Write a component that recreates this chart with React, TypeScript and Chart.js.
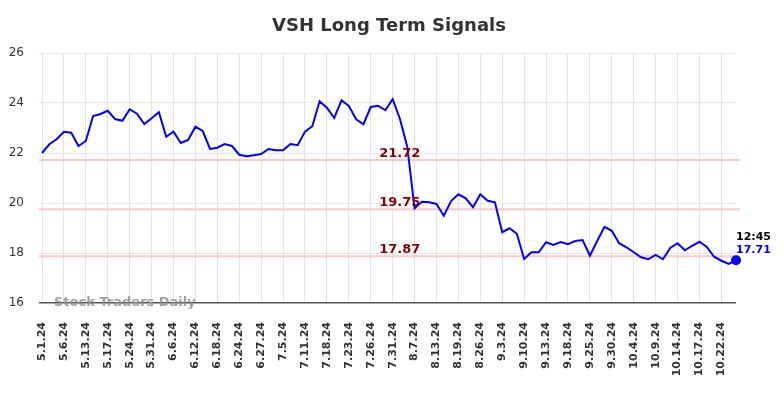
import React, { useEffect, useRef } from "react";
import { Chart, registerables } from "chart.js";

Chart.register(...registerables);

const TITLE = "VSH Long Term Signals";
const WATERMARK = "Stock Traders Daily";
const LAST_TIME = "12:45";

const dates: string[] = [
  "5.1.24", "5.2.24", "5.3.24", "5.6.24", "5.8.24", "5.10.24",
  "5.13.24", "5.14.24", "5.16.24", "5.17.24", "5.20.24", "5.22.24",
  "5.24.24", "5.28.24", "5.30.24", "5.31.24", "6.3.24", "6.5.24",
  "6.6.24", "6.7.24", "6.11.24", "6.12.24", "6.13.24", "6.17.24",
  "6.18.24", "6.20.24", "6.21.24", "6.24.24", "6.25.24", "6.26.24",
  "6.27.24", "7.1.24", "7.3.24", "7.5.24", "7.8.24", "7.10.24",
  "7.11.24", "7.15.24", "7.17.24", "7.18.24", "7.19.24", "7.22.24",
  "7.23.24", "7.24.24", "7.25.24", "7.26.24", "7.29.24", "7.30.24",
  "7.31.24", "8.2.24", "8.5.24", "8.7.24", "8.9.24", "8.12.24",
  "8.13.24", "8.15.24", "8.16.24", "8.19.24", "8.21.24", "8.23.24",
  "8.26.24", "8.28.24", "8.30.24", "9.3.24", "9.5.24", "9.9.24",
  "9.10.24", "9.11.24", "9.12.24", "9.13.24", "9.16.24", "9.17.24",
  "9.18.24", "9.20.24", "9.23.24", "9.25.24", "9.26.24", "9.27.24",
  "9.30.24", "10.2.24", "10.3.24", "10.4.24", "10.7.24", "10.8.24",
  "10.9.24", "10.10.24", "10.11.24", "10.14.24", "10.15.24", "10.16.24",
  "10.17.24", "10.18.24", "10.21.24", "10.22.24", "10.23.24", "10.24.24",
];

const prices: number[] = [
  22.0, 22.35, 22.55, 22.85, 22.81, 22.28, 22.48, 23.48, 23.56, 23.69,
  23.36, 23.29, 23.75, 23.57, 23.16, 23.39, 23.63, 22.65, 22.85, 22.4,
  22.52, 23.05, 22.88, 22.16, 22.21, 22.36, 22.28, 21.93, 21.87, 21.91,
  21.96, 22.16, 22.11, 22.11, 22.36, 22.31, 22.85, 23.07, 24.07, 23.81,
  23.4, 24.11, 23.88, 23.35, 23.15, 23.84, 23.89, 23.71, 24.15, 23.36,
  22.25, 19.79, 20.05, 20.03, 19.96, 19.49, 20.08, 20.35, 20.19, 19.83,
  20.35, 20.09, 20.03, 18.83, 18.99, 18.77, 17.76, 18.03, 18.03, 18.43,
  18.32, 18.44, 18.35, 18.48, 18.52, 17.89, 18.48, 19.05, 18.89, 18.39,
  18.23, 18.03, 17.83, 17.75, 17.92, 17.75, 18.2, 18.39, 18.11, 18.29,
  18.45, 18.24, 17.85, 17.69, 17.56, 17.71,
];

const signalLevels: number[] = [21.72, 19.75, 17.87];

const yMin = 16;
const yMax = 26;
const yStep = 2;
const labelEvery = 3;

const FONT = "'DejaVu Sans', sans-serif";

const overlayPlugin = {
  id: "overlay",
  beforeDatasetsDraw(chart: any) {
    const { ctx, chartArea, scales } = chart;
    const y = scales.y;
    ctx.save();
    signalLevels.forEach((lv) => {
      const py = y.getPixelForValue(lv);
      ctx.strokeStyle = "rgba(255, 190, 190, 0.85)";
      ctx.lineWidth = 2;
      ctx.beginPath();
      ctx.moveTo(chartArea.left - 3, py);
      ctx.lineTo(chartArea.right + 4, py);
      ctx.stroke();
    });
    ctx.restore();
  },
  afterDatasetsDraw(chart: any) {
    const { ctx, chartArea, scales } = chart;
    const y = scales.y;
    const x = scales.x;
    ctx.save();
    // signal labels
    ctx.font = `bold 13px ${FONT}`;
    ctx.fillStyle = "#8b0000";
    ctx.textAlign = "left";
    ctx.textBaseline = "alphabetic";
    const lx = chartArea.left + (chartArea.right - chartArea.left) * 0.486;
    signalLevels.forEach((lv) => {
      const py = y.getPixelForValue(lv);
      ctx.fillText(lv.toFixed(2), lx, py - 3);
    });
    // title
    ctx.font = `bold 18px ${FONT}`;
    ctx.fillStyle = "#333333";
    ctx.textAlign = "center";
    ctx.textBaseline = "middle";
    ctx.fillText(TITLE, (chartArea.left + chartArea.right) / 2, 26);
    // watermark
    ctx.font = `bold 13px ${FONT}`;
    ctx.fillStyle = "rgba(140, 140, 140, 0.8)";
    ctx.textAlign = "left";
    ctx.textBaseline = "alphabetic";
    ctx.fillText(WATERMARK, chartArea.left + 12, chartArea.bottom + 2.5);
    // last point label
    const li = prices.length - 1;
    const px = x.getPixelForValue(li);
    const py = y.getPixelForValue(prices[li]);
    ctx.font = `bold 11px ${FONT}`;
    ctx.fillStyle = "#000000";
    ctx.fillText(LAST_TIME, px, py - 20);
    ctx.fillStyle = "#0000ff";
    ctx.fillText(prices[li].toFixed(2), px, py - 7);
    ctx.restore();
  },
};

export default function App() {
  const ref = useRef<HTMLCanvasElement | null>(null);
  useEffect(() => {
    document.body.style.margin = "0";
    if (!ref.current) return;
    Chart.defaults.font.family = FONT;
    const last = prices.length - 1;
    const chart = new Chart(ref.current, {
      type: "line",
      data: {
        labels: dates,
        datasets: [
          {
            data: prices,
            borderColor: "#0000ff",
            backgroundColor: "#0000ff",
            borderWidth: 2,
            tension: 0,
            pointRadius: (c: any) => (c.dataIndex === last ? 4 : 0),
            pointHoverRadius: 0,
            fill: false,
          },
        ],
      },
      options: {
        animation: false,
        responsive: false,
        maintainAspectRatio: false,
        layout: { padding: { top: 53, right: 48, left: 0, bottom: 0 } },
        plugins: {
          legend: { display: false },
          title: { display: false },
          tooltip: { enabled: false },
        },
        scales: {
          x: {
            offset: false,
            afterFit: (s: any) => {
              s.height = 95;
            },
            border: { display: false },
            grid: {
              color: "#e3e3e3",
              lineWidth: 1,
              drawTicks: false,
            },
            ticks: {
              autoSkip: false,
              maxRotation: 90,
              minRotation: 90,
              padding: 19,
              color: "#333333",
              font: { family: FONT, size: 11, weight: "bold" },
              callback: (_v: any, i: number) =>
                i % labelEvery === 0 ? dates[i] : null,
            },
          },
          y: {
            min: yMin,
            max: yMax,
            afterFit: (s: any) => {
              s.width = 42;
            },
            border: { display: false },
            grid: {
              color: (c: any) =>
                c.tick && c.tick.value === yMin ? "#555555" : "#e8e8e8",
              lineWidth: (c: any) =>
                c.tick && c.tick.value === yMin ? 1.5 : 1,
              drawTicks: true,
              tickLength: 3,
            },
            ticks: {
              stepSize: yStep,
              padding: 15,
              color: "#333333",
              font: { family: FONT, size: 12 },
            },
          },
        },
      },
      plugins: [overlayPlugin],
    });
    return () => chart.destroy();
  }, []);
  return (
    <div style={{ width: 784, height: 398 }}>
      <canvas ref={ref} width={784} height={398} />
    </div>
  );
}
